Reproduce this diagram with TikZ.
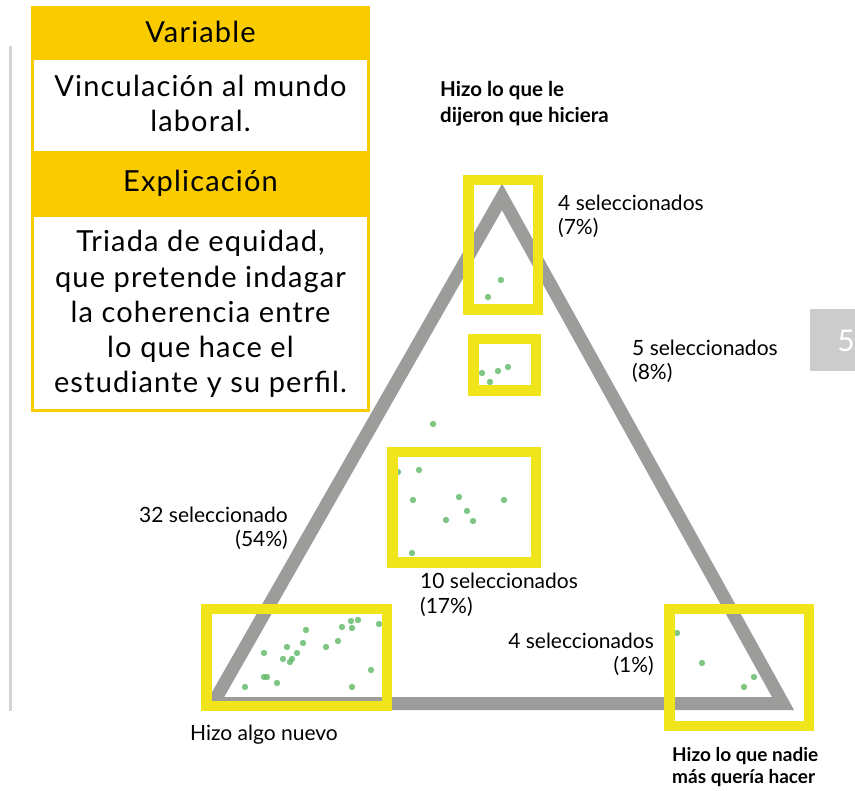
\documentclass[tikz,border=0pt]{standalone}
\usepackage{fontspec}
\setmainfont{Lato}
\newfontfamily\panelfont{Lato}[LetterSpace=4]
\definecolor{bandyellow}{RGB}{250,204,0}
\definecolor{boxyellow}{RGB}{240,228,26}
\definecolor{trigray}{RGB}{156,156,154}
\definecolor{dotgreen}{RGB}{104,188,112}
\definecolor{tabgray}{RGB}{204,204,204}
\definecolor{rulegray}{RGB}{212,212,212}
\tikzstyle{selbox} = [draw=boxyellow, line width=10.5pt]
\tikzstyle{seldot} = [fill=dotgreen, opacity=0.85]
\tikzstyle{panel}  = [inner sep=0pt, align=center, font=\panelfont\fontsize{29}{35.3}\selectfont]
\tikzstyle{count}  = [inner sep=0pt, font=\fontsize{21}{24.5}\selectfont]
\tikzstyle{corner} = [inner sep=0pt, align=left, font=\bfseries\fontsize{19}{22}\selectfont]

\begin{document}
\begin{tikzpicture}[x=1pt, y=-1pt]
\useasboundingbox (0,0) rectangle (855,791);
% side rule and page tab
\draw [rulegray, line width=3pt] (10.5,46) -- (10.5,711);
\fill [tabgray] (810,309) rectangle (855,371);
\node [inner sep=0pt, text=white, font=\fontsize{30}{30}\selectfont] (page) at (846,341) {5};

% panel
\fill [bandyellow] (31,6) rectangle (370,412);
\fill [white] (34,60)  rectangle (367,151);
\fill [white] (34,217) rectangle (367,409);
\node [panel] (var)  at (200.5,32)  {Variable};
\node [panel, anchor=base] (varx) at (200.5,132) {Vinculación al mundo\\laboral.};
\node [panel] (expl) at (200.5,183) {Explicación};
\node [panel, anchor=base] (explx) at (200.5,393) {Triada de equidad,\\que pretende indagar\\la coherencia entre\\lo que hace el\\estudiante y su perfil.};

% triangle
\draw [trigray, line width=13pt, line join=miter] (502,197) -- (783,703.5) -- (213,703.5) -- cycle;

% dots
\foreach \x/\y in {501/280, 488/297,
                   482/373, 490/382, 498/371, 508/367,
                   433/424,
                   398/472, 419/470, 413/500, 459/497, 467/511, 473/521, 446/520, 504/500, 412/553,
                   306/630, 342/627, 351/621, 358/620, 352/628, 379/624, 338/641, 326/647, 303/643,
                   297/653, 287/647, 283/659, 290/662, 292/659, 264/653, 264/677, 267/677, 277/683,
                   245/687, 352/687, 371/670,
                   677/633, 702/663, 754/677, 744/687}
  \fill [seldot] (\x,\y) circle (3.2pt);

% selection boxes
\draw [selbox] (468.25,180.25) rectangle (537.75,309.75);
\draw [selbox] (473.25,339.25) rectangle (535.75,390.75);
\draw [selbox] (392.25,452.25) rectangle (535.75,562.75);
\draw [selbox] (206.25,609.25) rectangle (386.75,705.75);
\draw [selbox] (669.25,609.25) rectangle (808.75,725.75);

% labels
\node [corner, anchor=base west, font=\bfseries\fontsize{20.5}{26}\selectfont] (told) at (440,123) {Hizo lo que le\\dijeron que hiciera};
\node [corner, anchor=base west] (nadie) at (672,783) {Hizo lo que nadie\\más quería hacer};
\node [count, anchor=base west] (nuevo) at (190,740) {Hizo algo nuevo};
\node [count, anchor=base west, align=left]  (n1) at (558,235) {4 seleccionados\\(7\%)};
\node [count, anchor=base west, align=left]  (n2) at (632,380) {5 seleccionados\\(8\%)};
\node [count, anchor=base east, align=right] (n3) at (288,547) {32 seleccionado\\(54\%)};
\node [count, anchor=base west, align=left]  (n4) at (420,613) {10 seleccionados\\(17\%)};
\node [count, anchor=base east, align=right] (n5) at (654,673) {4 seleccionados\\(1\%)};
\end{tikzpicture}
\end{document}
